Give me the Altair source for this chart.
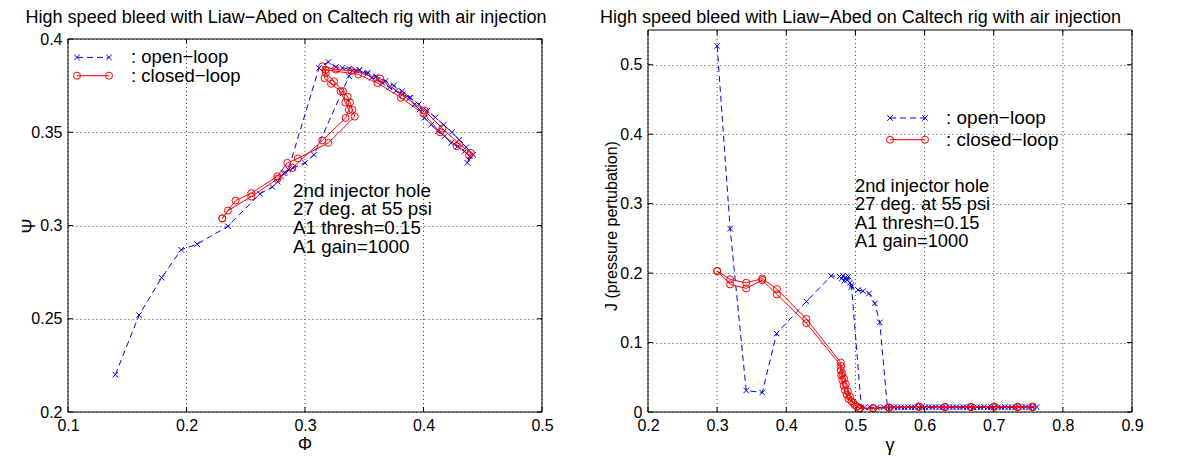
import altair as alt
import pandas as pd

FONT = "Liberation Sans"
BLUE = "#0000ff"
RED = "#ff0000"

# ---------------- data: left panel (Phi, Psi) ----------------
phi_open = [0.140, 0.160, 0.179, 0.1955, 0.209, 0.235, 0.262, 0.2725, 0.277, 0.280, 0.283, 0.286,
            0.3118, 0.3198, 0.326, 0.3316, 0.3372, 0.3457, 0.3523, 0.3563, 0.3613, 0.3655, 0.3712,
            0.3768, 0.3825, 0.3881, 0.3923, 0.3966, 0.4008, 0.4065, 0.4121, 0.4178, 0.4234, 0.4290,
            0.4347, 0.4389, 0.4370, 0.4420, 0.4360, 0.4300, 0.4240, 0.4170, 0.4100, 0.4030, 0.3960,
            0.3890, 0.3820, 0.3750, 0.3680, 0.3600, 0.3530, 0.3460, 0.3400, 0.3372, 0.3076, 0.3000,
            0.2900, 0.2820]
psi_open = [0.220, 0.252, 0.272, 0.287, 0.290, 0.2996, 0.317, 0.3207, 0.3235, 0.3262, 0.3285, 0.3300,
            0.3845, 0.3877, 0.3850, 0.3845, 0.3841, 0.3832, 0.3812, 0.3791, 0.3782, 0.3764, 0.3741,
            0.3723, 0.3705, 0.3684, 0.3648, 0.3622, 0.3577, 0.3541, 0.3505, 0.3479, 0.3443, 0.3425,
            0.3398, 0.3371, 0.3336, 0.3380, 0.3420, 0.3460, 0.3500, 0.3540, 0.3580, 0.3615, 0.3650,
            0.3685, 0.3720, 0.3750, 0.3775, 0.3800, 0.3820, 0.3835, 0.3830, 0.3800, 0.3380, 0.3336,
            0.3309, 0.3280]

phi_closed = [0.2302, 0.2414, 0.2547, 0.2767, 0.2851, 0.2940, 0.3197, 0.3420, 0.3400, 0.3380, 0.3360,
              0.3320, 0.3245, 0.3175, 0.3146, 0.3260, 0.3392, 0.3633, 0.3823, 0.4011, 0.4160, 0.4300,
              0.4399, 0.4385, 0.4280, 0.4140, 0.4000, 0.3810, 0.3612, 0.3450, 0.3175, 0.3165, 0.3220,
              0.3300, 0.3340, 0.3370, 0.3343, 0.3146, 0.2893, 0.2767, 0.2547, 0.2350, 0.2302]
psi_closed = [0.3038, 0.3134, 0.3173, 0.3264, 0.3336, 0.3360, 0.3443, 0.3584, 0.3620, 0.3660, 0.3690,
              0.3720, 0.3773, 0.3818, 0.3853, 0.3836, 0.3831, 0.3788, 0.3698, 0.3616, 0.3520, 0.3437,
              0.3389, 0.3377, 0.3425, 0.3500, 0.3600, 0.3685, 0.3764, 0.3810, 0.3835, 0.3790, 0.3760,
              0.3720, 0.3660, 0.3620, 0.3577, 0.3456, 0.3309, 0.3250, 0.3155, 0.3080, 0.3038]

# ---------------- data: right panel (gamma, J) ----------------
gam_open = [0.300, 0.3188, 0.342, 0.3652, 0.386, 0.429, 0.465, 0.477, 0.480, 0.482, 0.484, 0.486,
            0.488, 0.490, 0.492, 0.4942, 0.5038, 0.511, 0.5197, 0.528, 0.5352, 0.5463,
            0.556, 0.566, 0.576, 0.586, 0.596, 0.606, 0.616, 0.626, 0.636, 0.646, 0.656, 0.666,
            0.676, 0.686, 0.696, 0.706, 0.716, 0.726, 0.736, 0.746, 0.756, 0.762,
            0.751, 0.741, 0.731, 0.721, 0.711, 0.701, 0.691, 0.681, 0.671, 0.661, 0.651, 0.641,
            0.631, 0.621, 0.611, 0.601, 0.591, 0.581, 0.571, 0.561, 0.551, 0.541, 0.531, 0.521,
            0.513, 0.5085, 0.4942]
J_open = [0.527, 0.264, 0.031, 0.028, 0.113, 0.159, 0.196, 0.195, 0.192, 0.196, 0.189, 0.194,
          0.190, 0.195, 0.186, 0.180, 0.1756, 0.174, 0.1707, 0.1564, 0.129, 0.0067,
          0.0070, 0.0068, 0.0072, 0.0070, 0.0074, 0.0071, 0.0073, 0.0070, 0.0074, 0.0072, 0.0070, 0.0073,
          0.0071, 0.0074, 0.0072, 0.0070, 0.0073, 0.0071, 0.0074, 0.0072, 0.0070, 0.0073,
          0.0066, 0.0068, 0.0065, 0.0067, 0.0066, 0.0068, 0.0065, 0.0067, 0.0066, 0.0068, 0.0065, 0.0067,
          0.0066, 0.0068, 0.0065, 0.0067, 0.0066, 0.0068, 0.0065, 0.0067, 0.0066, 0.0068, 0.0065, 0.0067,
          0.0066, 0.0070, 0.1828]

gam_closed = [0.300, 0.3188, 0.342, 0.3652, 0.3864, 0.429, 0.4787, 0.4787, 0.4795, 0.481, 0.483, 0.485,
              0.4875, 0.490, 0.4942, 0.499, 0.5062, 0.5255, 0.5487, 0.5917, 0.6294, 0.6671, 0.7004,
              0.7346, 0.7563, 0.7563, 0.7346, 0.7004, 0.6671, 0.6294, 0.5917, 0.5487, 0.5255, 0.5062,
              0.502, 0.497, 0.492, 0.489, 0.486, 0.4835, 0.481, 0.4795, 0.429, 0.3864, 0.3652, 0.342,
              0.3188, 0.300]
J_closed = [0.203, 0.191, 0.186, 0.192, 0.177, 0.134, 0.0713, 0.060, 0.053, 0.046, 0.038, 0.031,
            0.025, 0.019, 0.0153, 0.010, 0.0057, 0.0057, 0.0067, 0.0080, 0.0075, 0.0075, 0.0080,
            0.0075, 0.0078, 0.0068, 0.0068, 0.0072, 0.0070, 0.0070, 0.0072, 0.0060, 0.0052, 0.0050,
            0.008, 0.013, 0.022, 0.030, 0.040, 0.048, 0.055, 0.066, 0.128, 0.1693, 0.1899, 0.178,
            0.1837, 0.203]

left_xticks = [0.1, 0.2, 0.3, 0.4, 0.5]
left_yticks = [0.2, 0.25, 0.3, 0.35, 0.4]
right_xticks = [0.2, 0.3, 0.4, 0.5, 0.6, 0.7, 0.8, 0.9]
right_yticks = [0.0, 0.1, 0.2, 0.3, 0.4, 0.5]

title_text = "High speed bleed with Liaw\u2212Abed on Caltech rig with air injection"
note_lines = ["2nd injector hole", "27 deg. at 55 psi", "A1 thresh=0.15", "A1 gain=1000"]
legend_labels = [": open\u2212loop", ": closed\u2212loop"]

XPATH = "M-1,-1L1,1M-1,1L1,-1"
ONE = pd.DataFrame({"k": [0]})
GRID = dict(color="#333333", strokeWidth=1, strokeDash=[1, 3], opacity=0.9)


def txt(s, x, y, size, align="left", angle=0):
    return alt.Chart(ONE).mark_text(text=s, font=FONT, fontSize=size, align=align,
                                    baseline="middle", color="black", angle=angle).encode(
        x=alt.value(x), y=alt.value(y))


def panel(xo, yo, xc, yc, xdom, ydom, yext, xticks, yticks, W, H, xfmt, yfmt, L):
    # yext: scale top (>= frame top) so both panels share the same group origin
    xs = alt.Scale(domain=xdom, nice=False, zero=False)
    ys = alt.Scale(domain=[ydom[0], yext], nice=False, zero=False)
    xax = alt.Axis(values=xticks, format=xfmt, title=None, grid=False)
    yax = alt.Axis(values=yticks, format=yfmt, title=None)
    X = alt.X("x:Q", scale=xs, axis=xax)
    Y = alt.Y("y:Q", scale=ys, axis=yax)

    do = pd.DataFrame({"x": xo, "y": yo, "i": range(len(xo))})
    dc = pd.DataFrame({"x": xc, "y": yc, "i": range(len(xc))})
    dxt = pd.DataFrame({"x": xticks})
    dyt = pd.DataFrame({"y": yticks})
    top = alt.datum(ydom[1])
    bot = alt.datum(ydom[0])

    layers = []
    # invisible bounding box used for layout
    layers.append(alt.Chart(ONE).mark_rect(opacity=0).encode(
        x=alt.value(L["bx0"]), x2=alt.value(L["bx1"]), y=alt.value(L["by0"]), y2=alt.value(H + L["by1"])))
    # vertical dotted grid limited to the frame
    layers.append(alt.Chart(dxt).mark_rule(**GRID).encode(x=X, y=bot, y2=top))
    # inward ticks on four sides
    layers.append(alt.Chart(dxt).mark_rule(color="black", strokeWidth=1).encode(
        x=X, y=alt.value(H), y2=alt.value(H - 5)))
    layers.append(alt.Chart(dxt).mark_rule(color="black", strokeWidth=1).encode(
        x=X, y=top, y2=alt.value(L["ftop"] + 5)))
    layers.append(alt.Chart(dyt).mark_rule(color="black", strokeWidth=1).encode(
        y=Y, x=alt.value(0), x2=alt.value(5)))
    layers.append(alt.Chart(dyt).mark_rule(color="black", strokeWidth=1).encode(
        y=Y, x=alt.value(W), x2=alt.value(W - 5)))
    # data
    layers.append(alt.Chart(do).mark_line(color=BLUE, strokeWidth=1, strokeDash=[6, 4]).encode(
        x=X, y=Y, order="i:Q"))
    layers.append(alt.Chart(do).mark_point(shape=XPATH, color=BLUE, size=30, strokeWidth=1,
                                           filled=False, opacity=1).encode(x=X, y=Y))
    layers.append(alt.Chart(dc).mark_line(color=RED, strokeWidth=1).encode(x=X, y=Y, order="i:Q"))
    layers.append(alt.Chart(dc).mark_point(shape="circle", color=RED, size=50, strokeWidth=1,
                                           filled=False, opacity=1).encode(x=X, y=Y))
    # frame
    layers.append(alt.Chart(ONE).mark_rect(fillOpacity=0, stroke="black", strokeWidth=1).encode(
        x=alt.datum(xdom[0]), x2=alt.datum(xdom[1]), y=bot, y2=top))
    # legend
    lx0, lx1, ly0, ly1, ltx, lfs = L["leg"]
    layers.append(alt.Chart(ONE).mark_rule(color=BLUE, strokeWidth=1, strokeDash=[6, 4]).encode(
        x=alt.value(lx0), x2=alt.value(lx1), y=alt.value(ly0)))
    layers.append(alt.Chart(ONE).mark_rule(color=RED, strokeWidth=1).encode(
        x=alt.value(lx0), x2=alt.value(lx1), y=alt.value(ly1)))
    for px in (lx0, lx1):
        layers.append(alt.Chart(ONE).mark_point(shape=XPATH, color=BLUE, size=30, strokeWidth=1,
                                                filled=False, opacity=1).encode(
            x=alt.value(px), y=alt.value(ly0)))
        layers.append(alt.Chart(ONE).mark_point(shape="circle", color=RED, size=50, strokeWidth=1,
                                                filled=False, opacity=1).encode(
            x=alt.value(px), y=alt.value(ly1)))
    layers.append(txt(legend_labels[0], ltx, ly0, lfs))
    layers.append(txt(legend_labels[1], ltx, ly1, lfs))
    # annotation
    nx, ny, ndy, nfs = L["note"]
    for k, s in enumerate(note_lines):
        layers.append(txt(s, nx, ny + k * ndy, nfs))
    # title and axis titles
    tx, ty, tfs = L["title"]
    layers.append(txt(title_text, tx, ty, tfs, align="center"))
    xlx, xly, xls, xltext = L["xlab"]
    layers.append(txt(xltext, xlx, xly, xls, align="center"))
    ylx, yly, yls, yltext = L["ylab"]
    layers.append(txt(yltext, ylx, yly, yls, align="center", angle=270))

    return alt.layer(*layers).properties(width=W, height=H)


W_L, W_R, H = 474, 484, 382

left = panel(phi_open, psi_open, phi_closed, psi_closed, [0.1, 0.5], [0.2, 0.4], 0.40483,
             left_xticks, left_yticks, W_L, H, ".1~f", ".2~f",
             {"bx0": -60, "bx1": 490, "by0": -21.5, "by1": 40, "ftop": 8.7,
              "leg": (9, 41, 27.4, 45.7, 63, 18.5),
              "note": (225, 160.5, 18.9, 18.8),
              "title": (218, -12.3, 18),
              "xlab": (237, H + 33, 18, "\u03a6"),
              "ylab": (-38, 196, 18, "\u03a8")})

right = panel(gam_open, J_open, gam_closed, J_closed, [0.2, 0.9], [0.0, 0.55], 0.55,
              right_xticks, right_yticks, W_R, H, ".1~f", ".1~f",
              {"bx0": -48, "bx1": 500, "by0": -21.5, "by1": 40, "ftop": 0,
               "leg": (242, 277, 88, 109.7, 298, 19),
               "note": (207, 157, 18.3, 18.3),
               "title": (212.5, -12.3, 18),
               "xlab": (242, H + 34, 18, "\u03b3"),
               "ylab": (-36, 196, 16, "J (pressure pertubation)")})

chart = alt.hconcat(left, right, spacing=42, padding=0).configure_view(
    stroke="transparent", strokeWidth=0
).configure_axis(
    labelFont=FONT, labelFontSize=16, labelColor="black", domain=False, ticks=False, tickSize=0,
    labelFlush=False, labelOverlap=False,
    grid=True, gridDash=[1, 3], gridColor="#333333", gridWidth=1, gridOpacity=0.9,
    labelPadding=6
).configure_axisX(labelPadding=5)

chart.save("out.html", embed_options={"renderer": "svg", "actions": False})
